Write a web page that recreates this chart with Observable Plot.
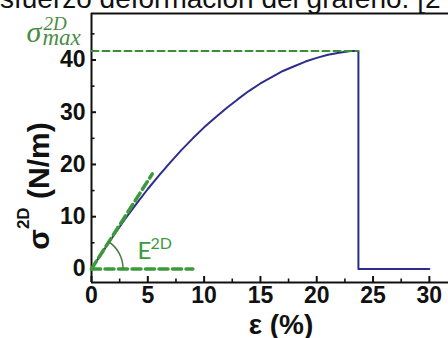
<!DOCTYPE html>
<html><head><meta charset="utf-8">
<script src="https://cdn.jsdelivr.net/npm/d3@7"></script>
<script src="https://cdn.jsdelivr.net/npm/@observablehq/plot@0.6"></script>
<style>
html,body{margin:0;padding:0;background:#fff;}
#wrap{position:relative;width:448px;height:338px;overflow:hidden;background:#fff;}
#chart{position:absolute;left:0;top:0;}
#title{position:absolute;left:0;top:-15px;font:28px/28px "Liberation Sans",Arial,sans-serif;color:#111;white-space:nowrap;}
</style></head><body>
<div id="wrap"><div id="chart"></div><div id="title">sfuerzo deformación del grafeno. [2</div></div>
<script>
// Stress–strain curve of graphene
const strain = [0,1,2,3,4,5,6,7,8,9,10,11,12,13,14,15,16,17,18,19,20,21,22,23,23.7,23.7,30];
const stress = [0,3.3,6.5,9.6,12.5,15.3,17.9,20.4,22.8,25.0,27.1,29.0,30.8,32.5,34.1,35.5,36.7,37.9,38.8,39.7,40.4,41.0,41.4,41.7,41.7,0,0];

// green guide lines
const maxLineX = [0, 23.7];
const maxLineY = [41.7, 41.7];
const baseLineX = [0, 9];
const baseLineY = [0, 0];
const tangentX = [0, 5.4];
const tangentY = [0, 18.2];

// ticks
const xMajor = [0,5,10,15,20,25,30];
const xMinor = [2.5,7.5,12.5,17.5,22.5,27.5];
const yMajor = [0,10,20,30,40];
const yMinor = [5,15,25,35,45];

const xTitle = "ε (%)";
const yTitleMain = "σ";
const yTitleSup = "2D";
const yTitleUnit = " (N/m)";

const W = 448, H = 338;
const mL = 91, mR = 0, mT = 13, mB = 56;
const xDomain = [0, 31.7], yDomain = [-2.6, 48.9];
const frameW = W - mL - mR, frameH = H - mT - mB;

const blue = "#2d2d8c";
const green = "#3a8f36";
const greenText = "#4a8c3f";
const greenBright = "#3c9a3c";

const curve = strain.map((x, i) => ({x, y: stress[i]}));
const maxLine = maxLineX.map((x, i) => ({x, y: maxLineY[i]}));
const baseLine = baseLineX.map((x, i) => ({x, y: baseLineY[i]}));
const tangent = tangentX.map((x, i) => ({x, y: tangentY[i]}));

const sans = '"Liberation Sans", Arial, sans-serif';
const serif = '"Liberation Serif", "DejaVu Serif", serif';

const plot = Plot.plot({
  width: W, height: H,
  marginLeft: mL, marginRight: mR, marginTop: mT, marginBottom: mB,
  style: {fontFamily: sans, background: "transparent", overflow: "visible", color: "#111"},
  x: {domain: xDomain},
  y: {domain: yDomain},
  marks: [
    // frame lines
    Plot.ruleX([xDomain[0]], {stroke: "#111", strokeWidth: 2}),
    Plot.ruleY([yDomain[0]], {stroke: "#111", strokeWidth: 2}),
    Plot.ruleY([yDomain[1]], {stroke: "#111", strokeWidth: 2}),
    // inward ticks
    Plot.tickX(xMajor, {x: d => d, insetTop: frameH - 6, stroke: "#111", strokeWidth: 2}),
    Plot.tickX(xMinor, {x: d => d, insetTop: frameH - 3.5, stroke: "#111", strokeWidth: 1.6}),
    Plot.tickY(yMajor, {y: d => d, insetRight: frameW - 5, stroke: "#111", strokeWidth: 2}),
    Plot.tickY(yMinor, {y: d => d, insetRight: frameW - 3.5, stroke: "#111", strokeWidth: 1.6}),
    // tick labels
    Plot.axisX({ticks: xMajor, tickSize: 0, tickPadding: 4, fontSize: 23, fontWeight: "bold", label: null, fill: "#111"}),
    Plot.axisY({ticks: yMajor, tickSize: 0, tickPadding: 6, fontSize: 23, fontWeight: "bold", label: null, fill: "#111"}),
    // data curve
    Plot.line(curve, {x: "x", y: "y", stroke: blue, strokeWidth: 2}),
    // green guides
    Plot.line(maxLine, {x: "x", y: "y", stroke: green, strokeWidth: 2, strokeDasharray: "7,4"}),
    Plot.line(baseLine, {x: "x", y: "y", stroke: greenBright, strokeWidth: 3.5, strokeDasharray: "9,4.5"}),
    Plot.line(tangent, {x: "x", y: "y", stroke: greenBright, strokeWidth: 3.5, strokeDasharray: "9,4.5"}),
    // σ max label
    Plot.text([yTitleMain], {x: 0, y: maxLineY[0], dx: -65, dy: -9, textAnchor: "start", lineAnchor: "bottom", fontSize: 30, fontStyle: "italic", fontFamily: serif, fill: greenText}),
    Plot.text(["2D"], {x: 0, y: maxLineY[0], dx: -48, dy: -21, textAnchor: "start", lineAnchor: "bottom", fontSize: 19, fontStyle: "italic", fontFamily: serif, fill: greenText}),
    Plot.text(["max"], {x: 0, y: maxLineY[0], dx: -49, dy: -6, textAnchor: "start", lineAnchor: "bottom", fontSize: 23, fontStyle: "italic", fontFamily: serif, fill: greenText}),
    // E2D label
    Plot.text(["E"], {x: 0, y: 0, dx: 46, dy: -10, textAnchor: "start", lineAnchor: "bottom", fontSize: 24, fontFamily: "Lato, sans-serif", fill: greenBright}),
    Plot.text(["2D"], {x: 0, y: 0, dx: 59, dy: -20, textAnchor: "start", lineAnchor: "bottom", fontSize: 16, fontFamily: "Lato, sans-serif", fill: greenBright})
  ]
});

// angle arc for E2D, from the plot's own scales
const sx = plot.scale("x"), sy = plot.scale("y");
const cx = sx.apply(tangentX[0]), cy = sy.apply(tangentY[0]);
const tx = sx.apply(tangentX[1]), ty = sy.apply(tangentY[1]);
const ang = Math.atan2(cy - ty, tx - cx);
const r = 32;
const p = d3.path();
p.moveTo(cx + r, cy);
p.arc(cx, cy, r, 0, -ang, true);
const svg = d3.select(plot);
svg.append("path").attr("d", p.toString()).attr("fill", "none").attr("stroke", "#4f7d4a").attr("stroke-width", 1.6);

// axis titles
svg.append("text")
  .attr("x", 281).attr("y", 334)
  .attr("text-anchor", "middle")
  .attr("font-family", sans).attr("font-size", 28).attr("font-weight", "bold").attr("fill", "#111")
  .text(xTitle);

const yt = svg.append("text")
  .attr("transform", "translate(49,186) rotate(-90)")
  .attr("text-anchor", "middle")
  .attr("font-family", sans).attr("font-size", 30).attr("font-weight", "bold").attr("fill", "#111");
yt.append("tspan").text(yTitleMain);
yt.append("tspan").attr("font-size", 17).attr("dy", -20).text(yTitleSup);
yt.append("tspan").attr("dy", 20).text(yTitleUnit);

document.getElementById("chart").appendChild(plot);
</script>
</body></html>
